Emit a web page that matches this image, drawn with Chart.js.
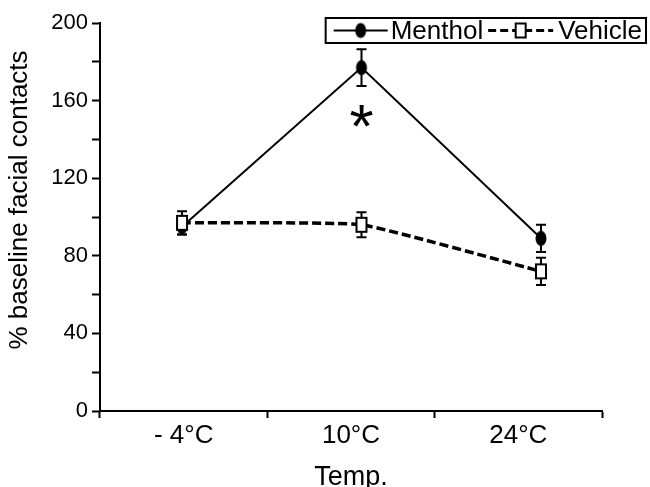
<!DOCTYPE html>
<html lang="en">
<head>
    <meta charset="UTF-8">
    <title>Menthol vs Vehicle</title>
    <script src="https://cdn.jsdelivr.net/npm/chart.js"></script>
    <style>
        body { margin: 0; background: #fff; }
        #wrap { width: 650px; height: 487px; }
    </style>
</head>
<body>
<div id="wrap"><canvas id="chart"></canvas></div>
<script>
    // Dati
    const temps = ['- 4\u00b0C', '10\u00b0C', '24\u00b0C'];
    const menthol = [95, 177, 89];
    const mentholErr = [4, 9.5, 7];
    const vehicle = [97, 96, 72];
    const vehicleErr = [6, 6.5, 7];
    const yTicks = [0, 40, 80, 120, 160, 200];
    const starIndex = 1;
    const starValue = 150;

    const FONT = '"Liberation Sans", Arial, sans-serif';

    function punti(valori) {
        return valori.map((v, i) => ({ x: i, y: v }));
    }

    // marker disegnati a mano (ellisse piena e rettangolo vuoto)
    function marker(tipo) {
        const c = document.createElement('canvas');
        c.width = 14; c.height = 18;
        const g = c.getContext('2d');
        if (tipo === 'ellisse') {
            g.fillStyle = '#000';
            g.beginPath();
            g.ellipse(7, 9, 5.5, 7.5, 0, 0, Math.PI * 2);
            g.fill();
        } else {
            g.fillStyle = '#fff';
            g.fillRect(2, 2, 10, 14);
            g.strokeStyle = '#000';
            g.lineWidth = 2;
            g.strokeRect(2, 2, 10, 14);
        }
        return c;
    }
    const mentholMarker = marker('ellisse');
    const vehicleMarker = marker('rett');

    // barre di errore sotto ai marker, asterisco sopra
    const errorBars = {
        id: 'errorBars',
        beforeDatasetsDraw(chart) {
            const ctx = chart.ctx;
            const xs = chart.scales.x, ys = chart.scales.y;
            const sets = [[menthol, mentholErr], [vehicle, vehicleErr]];
            ctx.save();
            ctx.strokeStyle = '#000';
            ctx.lineWidth = 2;
            sets.forEach(([vals, errs]) => {
                vals.forEach((v, i) => {
                    const px = xs.getPixelForValue(i);
                    const top = ys.getPixelForValue(v + errs[i]);
                    const bot = ys.getPixelForValue(v - errs[i]);
                    ctx.beginPath();
                    ctx.moveTo(px, top); ctx.lineTo(px, bot);
                    ctx.moveTo(px - 5, top); ctx.lineTo(px + 5, top);
                    ctx.moveTo(px - 5, bot); ctx.lineTo(px + 5, bot);
                    ctx.stroke();
                });
            });
            ctx.restore();
        },
        afterDatasetsDraw(chart) {
            const ctx = chart.ctx;
            const xs = chart.scales.x, ys = chart.scales.y;
            ctx.save();
            ctx.fillStyle = '#000';
            ctx.font = '62px ' + FONT;
            ctx.textAlign = 'center';
            ctx.textBaseline = 'middle';
            ctx.fillText('*', xs.getPixelForValue(starIndex), ys.getPixelForValue(starValue) + 10);
            ctx.restore();
        }
    };

    // titolo asse y (un po' sopra il centro, come nell'originale)
    const yTitle = {
        id: 'yTitle',
        afterDraw(chart) {
            const ctx = chart.ctx;
            ctx.save();
            ctx.translate(20, 200);
            ctx.rotate(-Math.PI / 2);
            ctx.font = '26px ' + FONT;
            ctx.fillStyle = '#000';
            ctx.textAlign = 'center';
            ctx.textBaseline = 'middle';
            ctx.fillText('% baseline facial contacts', 0, 0);
            ctx.restore();
        }
    };

    // legenda con bordo in alto a destra
    const boxLegend = {
        id: 'boxLegend',
        afterDraw(chart) {
            const ctx = chart.ctx;
            ctx.save();
            ctx.font = '26px ' + FONT;
            ctx.textBaseline = 'middle';
            ctx.strokeStyle = '#000';
            const right = 646, top = 18, bottom = 43, cy = (top + bottom) / 2;
            const w1 = ctx.measureText('Menthol').width;
            const w2 = ctx.measureText('Vehicle').width;
            const s1 = 54, s2 = 65;
            const width = 8 + s1 + 3 + w1 + 5 + s2 + 5 + w2 + 4;
            const left = right - width;
            ctx.fillStyle = '#fff';
            ctx.fillRect(left, top, width, bottom - top);
            ctx.lineWidth = 2;
            ctx.strokeRect(left, top, width, bottom - top);
            ctx.fillStyle = '#000';
            let x = left + 8;
            ctx.beginPath();
            ctx.moveTo(x, cy); ctx.lineTo(x + s1, cy); ctx.stroke();
            ctx.drawImage(mentholMarker, x + s1 / 2 - 7, cy - 9);
            x += s1 + 3;
            ctx.fillText('Menthol', x, cy + 1);
            x += w1 + 5;
            ctx.lineWidth = 3;
            ctx.setLineDash([8, 4]);
            ctx.beginPath();
            ctx.moveTo(x, cy); ctx.lineTo(x + s2, cy); ctx.stroke();
            ctx.setLineDash([]);
            ctx.drawImage(vehicleMarker, x + s2 / 2 - 7, cy - 9);
            x += s2 + 5;
            ctx.fillText('Vehicle', x, cy + 1);
            ctx.restore();
        }
    };

    new Chart(document.getElementById('chart'), {
        type: 'line',
        data: {
            labels: temps,
            datasets: [{
                label: 'Vehicle',
                data: punti(vehicle),
                xAxisID: 'x',
                borderColor: '#000',
                borderWidth: 3.5,
                borderDash: [9, 4],
                tension: 0.12,
                pointStyle: vehicleMarker,
                pointBackgroundColor: '#fff',
                pointBorderColor: '#000'
            }, {
                label: 'Menthol',
                data: punti(menthol),
                xAxisID: 'x',
                borderColor: '#000',
                borderWidth: 2,
                tension: 0,
                pointStyle: mentholMarker,
                pointBackgroundColor: '#000',
                pointBorderColor: '#000'
            }]
        },
        options: {
            responsive: true,
            maintainAspectRatio: false,
            animation: false,
            layout: { padding: { top: 23, right: 48, left: 0, bottom: 0 } },
            scales: {
                x: {
                    type: 'linear',
                    display: false,
                    min: -0.457,
                    max: 2.34
                },
                xc: {
                    type: 'category',
                    labels: temps,
                    position: 'bottom',
                    offset: true,
                    afterFit(s) { s.height = 76; },
                    grid: { offset: true, drawOnChartArea: false, color: '#000', tickLength: 7, tickWidth: 2 },
                    border: { color: '#000', width: 2 },
                    ticks: { color: '#000', font: { family: FONT, size: 26 }, padding: 2, maxRotation: 0 },
                    title: { display: true, text: 'Temp.', color: '#000', font: { family: FONT, size: 27, lineHeight: 0.7 }, padding: { top: 4, bottom: 0 } }
                },
                y: {
                    min: 0,
                    max: 200,
                    afterFit(s) { s.width = 100; },
                    afterBuildTicks(s) {
                        s.ticks = [];
                        for (let v = 0; v <= 200; v += 20) s.ticks.push({ value: v });
                    },
                    grid: { drawOnChartArea: false, color: '#000', tickLength: 8, tickWidth: 2 },
                    border: { color: '#000', width: 2 },
                    ticks: {
                        color: '#000',
                        font: { family: FONT, size: 22 },
                        padding: 4,
                        callback: v => yTicks.includes(v) ? v : ''
                    }
                }
            },
            plugins: {
                legend: { display: false },
                tooltip: { enabled: false }
            }
        },
        plugins: [errorBars, yTitle, boxLegend]
    });
</script>
</body>
</html>
